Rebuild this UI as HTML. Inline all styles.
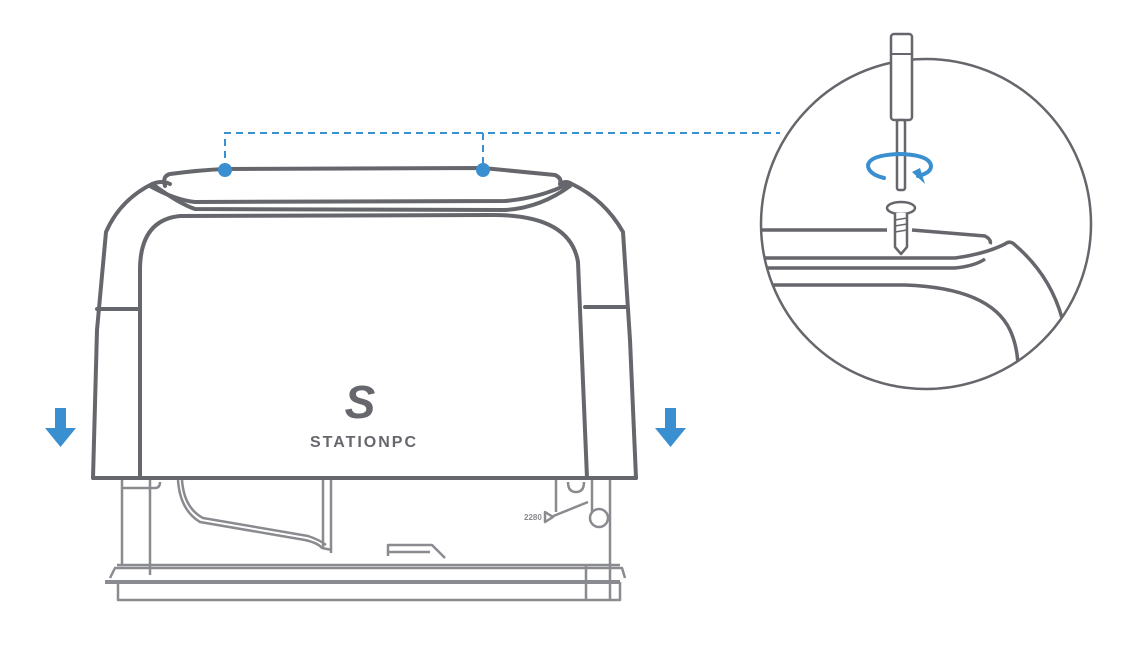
<!DOCTYPE html>
<html><head><meta charset="utf-8"><style>
html,body{margin:0;padding:0;background:#fff;width:1126px;height:663px;overflow:hidden}
svg{display:block}
</style></head><body>
<svg width="1126" height="663" viewBox="0 0 1126 663" xmlns="http://www.w3.org/2000/svg">
<g fill="none" stroke="#8a8b90" stroke-width="2.5" stroke-linejoin="round">
  <!-- lower chassis -->
  <path d="M122 480 L122 565"/>
  <path d="M123 488 L155 488 Q160 488 160 482"/>
  <path d="M150 480 L150 575"/>
  <path d="M610 480 L610 565"/>
  <path d="M178 480 Q180 510 200 522 L305 540 Q318 543 322 548 L332 550"/>
  <path d="M182 480 Q184 508 203 518 L308 536 Q320 540 326 545"/>
  <path d="M323 480 L323 548 M331 480 L331 553"/>
  <path d="M117 565 L620 565"/>
  <path d="M110 578 L115 568 L622 568 L625 578"/>
  <path d="M105 582 L620 582" stroke-width="4"/>
  <path d="M118 582 L118 600 L620 600 L620 582"/>
  <path d="M586 565 L586 600 M610 565 L610 600"/>
  <path d="M388 556 L388 545 L432 545 L445 558 M388 552 L430 552"/>
  <path d="M556 480 L556 512 M592 480 L592 512"/>
  <path d="M568 482 Q568 492 576 492 Q584 492 584 482"/>
  <path d="M551 517 L588 502"/>
  <circle cx="599" cy="518" r="9"/>
  <path d="M545 512 L553 517 L545 522 Z"/>
</g>
<text x="524" y="520" font-family="Liberation Sans, sans-serif" font-size="8" font-weight="bold" fill="#8a8b90">2280</text>
<g fill="none" stroke="#66676c" stroke-width="4" stroke-linejoin="round" stroke-linecap="round">
  <!-- outer shell -->
  <path d="M93 478 L636 478"/>
  <path d="M93 478 L97 330 L106 232 Q120 200 152 184 Q162 180 170 184"/>
  <path d="M636 478 L630 340 L623 232 Q605 200 572 184 Q566 180 560 184"/>
  <path d="M165 186 Q162 176 170 174 Q200 170 225 169 L483 168 L555 175 Q562 178 560 184"/>
  <path d="M150 186 Q175 200 195 202 L505 201 Q540 198 568 184"/>
  <path d="M155 186 Q180 204 195 209 L505 210 Q540 208 570 186"/>
  <path d="M140 478 L140 270 Q140 220 180 216 L490 215 Q570 214 578 262 L587 478"/>
  <path d="M97 309 L140 309 M585 307 L627 307"/>
</g>
<!-- logo -->
<text x="360" y="418" text-anchor="middle" font-family="Liberation Sans, sans-serif" font-size="46" font-style="italic" font-weight="bold" fill="#66676c">S</text>
<text x="364" y="447" text-anchor="middle" font-family="Liberation Sans, sans-serif" font-size="16" font-weight="bold" letter-spacing="2" fill="#66676c">STATIONPC</text>
<!-- blue dashed connector -->
<g fill="none" stroke="#3a8fd0" stroke-width="2" stroke-dasharray="7 5">
  <path d="M225 170 L225 133 L780 133"/>
  <path d="M483 133 L483 170"/>
</g>
<circle cx="225" cy="170" r="7" fill="#3a8fd0"/>
<circle cx="483" cy="170" r="7" fill="#3a8fd0"/>
<!-- down arrows -->
<path d="M55 408 L66 408 L66 428 L76 428 L60.5 447 L45 428 L55 428 Z" fill="#3a8fd0"/>
<path d="M665 408 L676 408 L676 428 L686 428 L670.5 447 L655 428 L665 428 Z" fill="#3a8fd0"/>
<!-- detail circle -->
<defs><clipPath id="cc"><circle cx="926" cy="224" r="165"/></clipPath></defs>
<g clip-path="url(#cc)" fill="none" stroke="#66676c" stroke-width="3.5" stroke-linejoin="round">
  <path d="M755 230 L887 230 M912 230 L985 236 Q992 240 990 244"/>
  <path d="M755 258 L955 258 Q985 254 1005 244 Q1010 240 1015 245 Q1050 275 1062 318"/>
  <path d="M755 268 L955 268 Q975 266 985 259"/>
  <path d="M755 285 L905 285 Q990 288 1010 330 Q1017 345 1018 365"/>
</g>
<circle cx="926" cy="224" r="165" fill="none" stroke="#66676c" stroke-width="2.5"/>
<!-- screwdriver -->
<rect x="891" y="34" width="21" height="86" rx="3" fill="#fff" stroke="#66676c" stroke-width="2.5"/>
<path d="M891 54 L912 54" stroke="#66676c" stroke-width="2"/>
<rect x="897" y="120" width="8" height="70" rx="2" fill="#fff" stroke="#66676c" stroke-width="2.5"/>
<!-- rotation arrow -->
<path d="M884 178 Q868 174 868 165 Q870 155 900 154 Q930 155 931 166 Q931 173 918 176" fill="none" stroke="#3a8fd0" stroke-width="4" stroke-linecap="round"/>
<path d="M912 172 L925 184 L920 168 Z" fill="#3a8fd0"/>
<!-- screw -->
<ellipse cx="901" cy="208" rx="14" ry="6" fill="#fff" stroke="#66676c" stroke-width="2.5"/>
<path d="M895 213 L895 247 L901 254 L907 247 L907 213" fill="#fff" stroke="#66676c" stroke-width="2.5" stroke-linejoin="round"/>
<path d="M895 220 L907 218 M895 226 L907 224 M895 232 L907 230" stroke="#66676c" stroke-width="1.5"/>
</svg>
</body></html>
